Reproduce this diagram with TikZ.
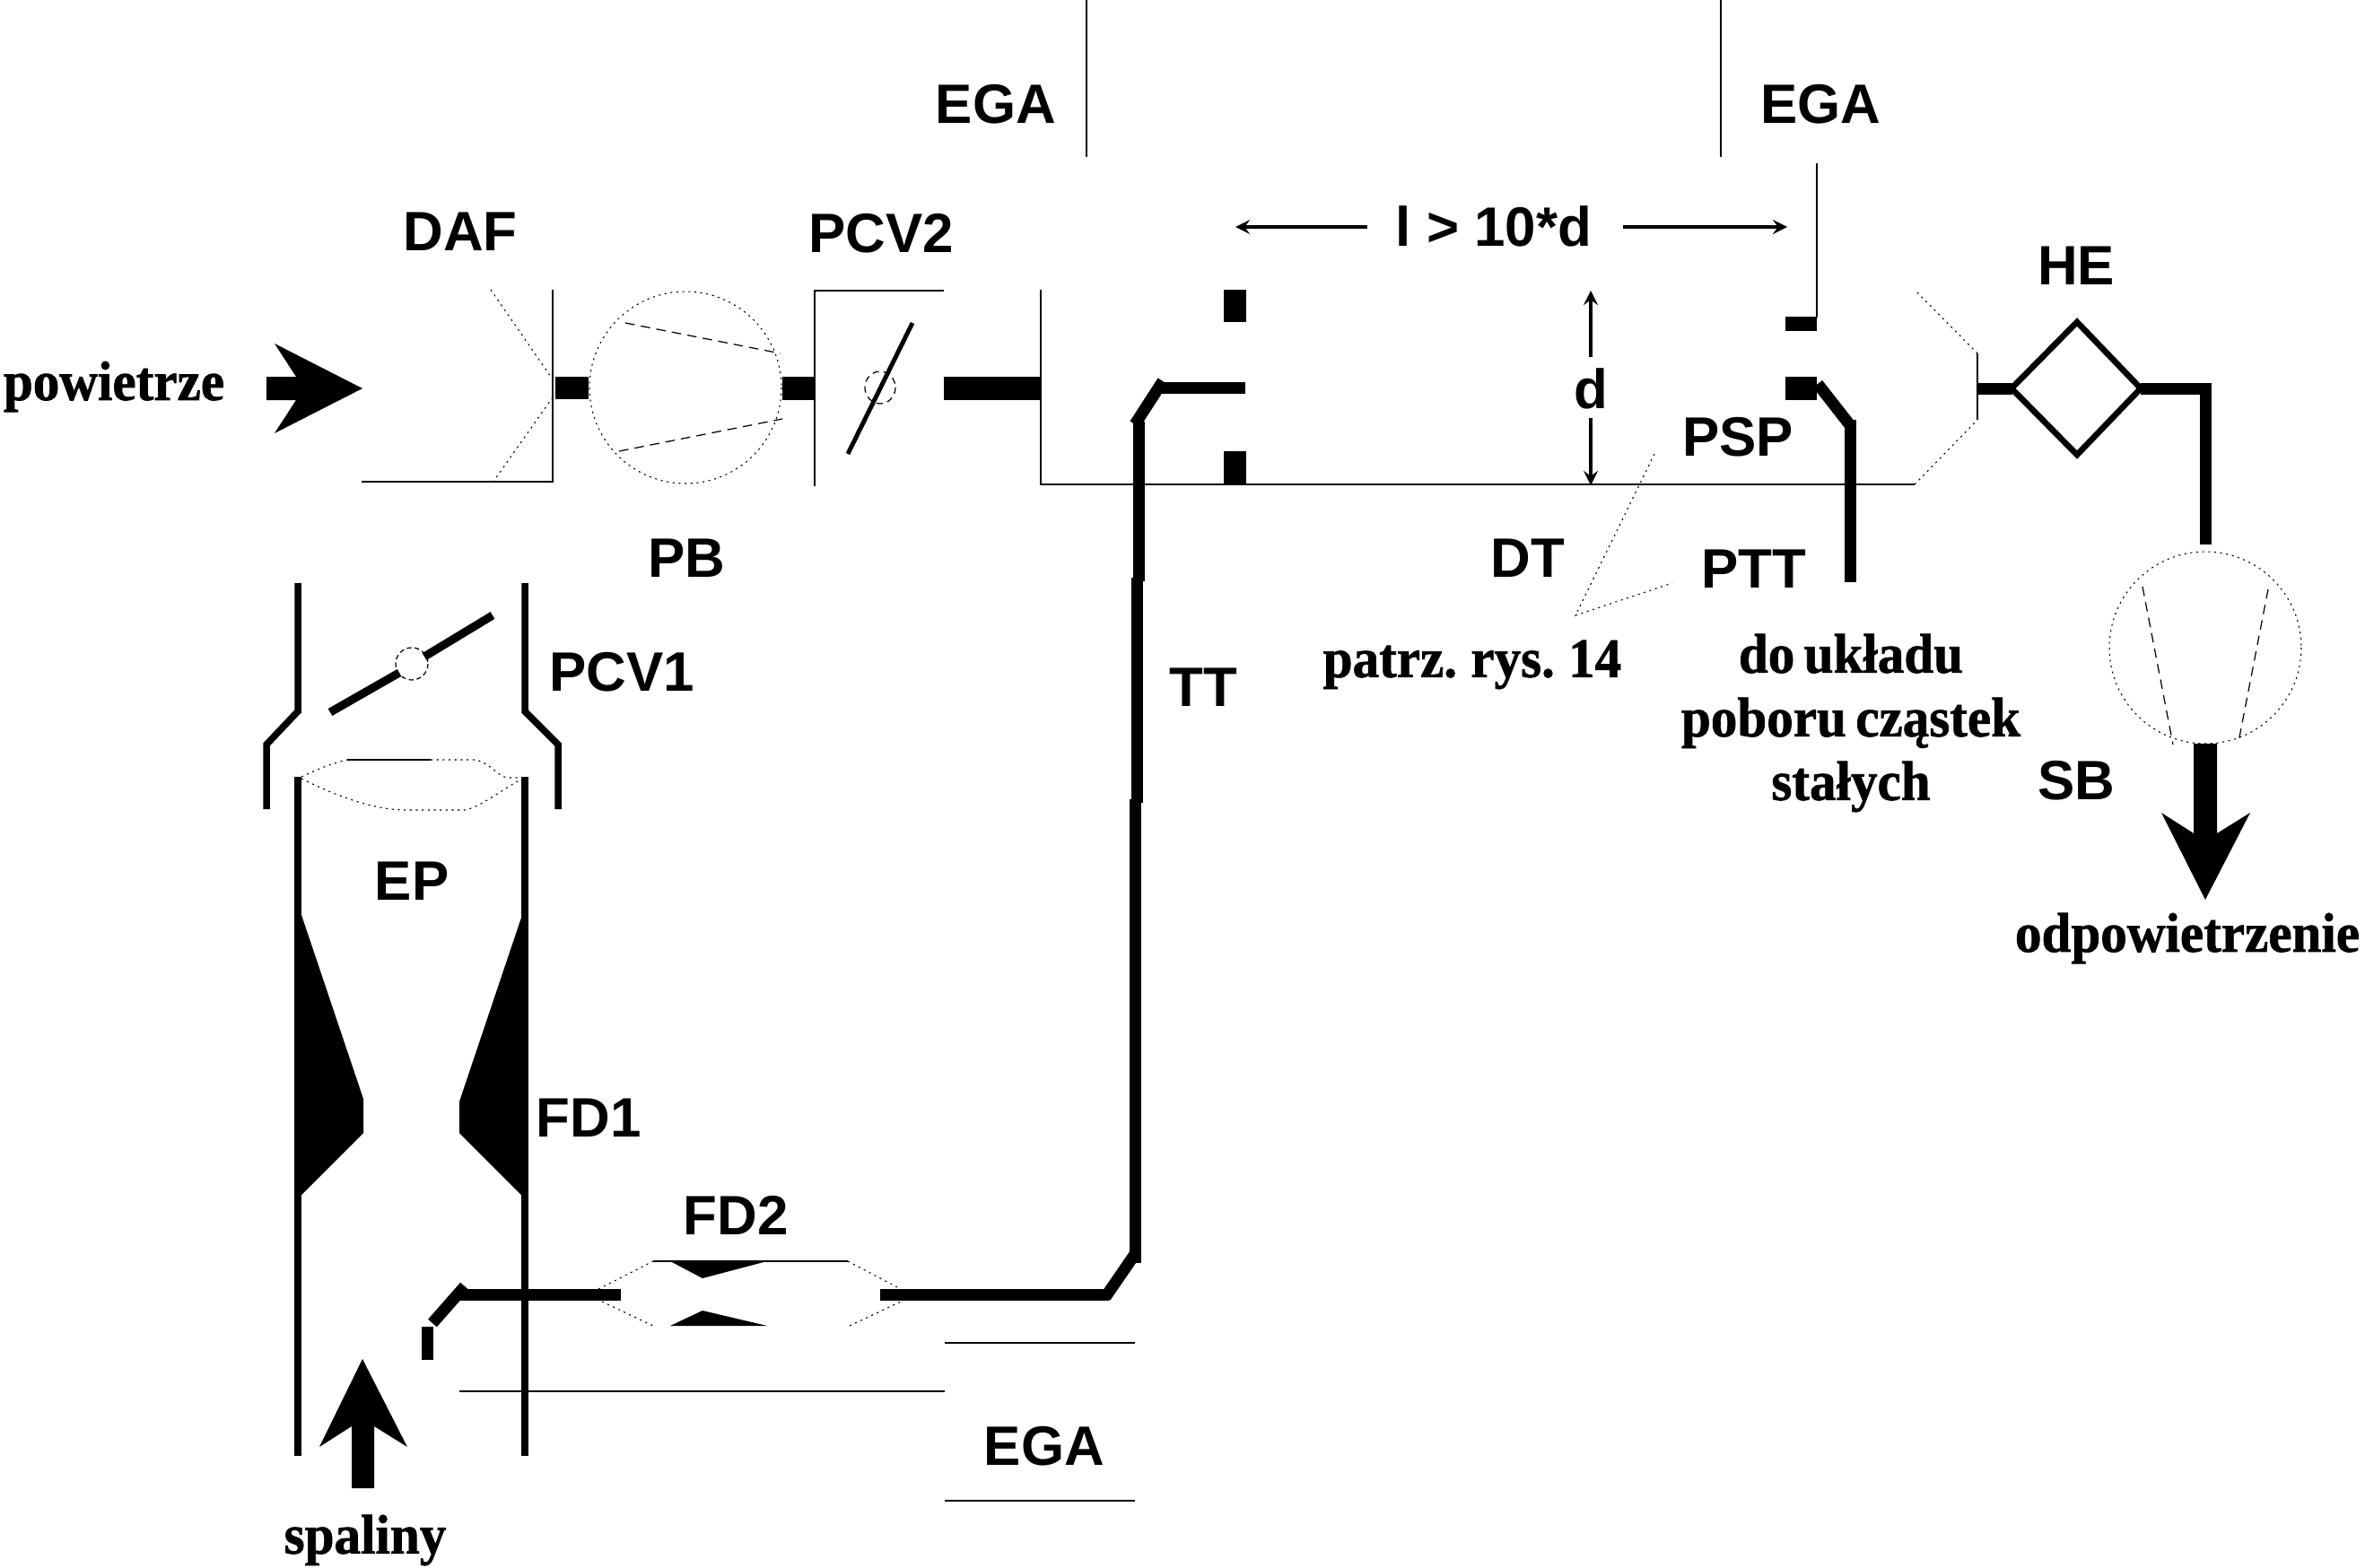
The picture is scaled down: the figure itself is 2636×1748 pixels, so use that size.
\documentclass[tikz,border=0pt]{standalone}
\usepackage{fontspec}
\setmainfont{Liberation Serif}[BoldFeatures={FakeBold=1.1,FakeStretch=0.95},WordSpace=0.7]
\setsansfont{Liberation Sans}
\tikzset{
	wall/.style={line width=7.5*0.2845pt},
	pipe/.style={line width=13*0.2845pt},
	hair/.style={line width=0.55pt},
	dots/.style={line width=0.3pt,dash pattern=on 0.6pt off 1.3pt},
	dashes/.style={line width=0.35pt,dash pattern=on 3pt off 2pt},
	dimline/.style={line width=1pt,>=stealth},
	lab/.style={font=\sffamily\bfseries\fontsize{17.6}{22}\selectfont,inner sep=0pt},
	txt/.style={font=\rmfamily\bfseries\fontsize{17.7}{20.2}\selectfont,inner sep=0pt,align=center},
}
\begin{document}
\begin{tikzpicture}[x=0.1mm,y=-0.1mm]
	\useasboundingbox (0,0) rectangle (2636,1748);
	\draw[hair] (1211,0)--(1211,175);
	\draw[hair] (1918,0)--(1918,175);
	\draw[hair] (2025,182)--(2025,354);
	\draw[hair] (403,537)--(616,537)--(616,323);
	\draw[dots] (547,323)--(616,423) (616,443)--(547,541);
	\fill (619,420) rectangle (656,445);
	\draw[dots] (764,432) circle (107);
	\draw[dashes] (697,360)--(870,394) (690,503)--(872,467);
	\fill (872,420) rectangle (908,446);
	\draw[hair] (1052,324)--(908,324)--(908,542);
	\draw[line width=1.4pt] (1017,360)--(945,506);
	\draw[dashes,dash pattern=on 2pt off 1.5pt] (981,432) ellipse (17 and 18);
	\fill (1052,420) rectangle (1161,446);
	\draw[hair] (1160,323)--(1160,540)--(2134,540);
	\draw[dots] (2134,540)--(2204,468);
	\draw[hair] (2204,468)--(2204,394);
	\draw[dots] (2204,394)--(2135,324);
	\fill (1364,323) rectangle (1389,359);
	\fill (1364,503) rectangle (1389,540);
	\fill (1990,353) rectangle (2025,369);
	\fill (1990,420) rectangle (2025,446);
	\draw[pipe] (1388,432)--(1293,432);
	\draw[pipe] (1296,425)--(1265,473);
	\draw[pipe] (1269,470)--(1269,648);
	\draw[pipe] (1267,644)--(1267,895);
	\draw[pipe] (1265,891)--(1265,1408);
	\draw[pipe] (1265,1398)--(1232,1446);
	\draw[pipe] (1236,1443)--(981,1443);
	\draw[pipe] (2026,428)--(2062,474);
	\draw[pipe] (2062,468)--(2062,649);
	\draw[pipe] (2204,433)--(2243,433);
	\draw[line width=1.9pt] (2242,433)--(2315,359)--(2386,433)--(2315,507)--cycle;
	\draw[pipe] (2386,433)--(2458,433)--(2458,607);
	\draw[dots] (2458,722) circle (107);
	\draw[dashes] (2388,654)--(2422,830) (2528,657)--(2495,827);
	\draw[dimline,<-] (1773,324)--(1773,398);
	\draw[dimline,->] (1773,466)--(1773,541);
	\draw[dimline,<-] (1377,253)--(1524,253);
	\draw[dimline,->] (1809,253)--(1992,253);
	\draw[dots] (1844,506)--(1756,686)--(1864,650);
	\fill (297,420)--(330,420)--(306,383)--(404,433)--(306,483)--(330,446)--(297,446)--cycle;
	\draw[wall] (332,650)--(332,793)--(297,830)--(297,902);
	\draw[wall] (585,650)--(585,793)--(622,830)--(622,902);
	\draw[wall] (332,866)--(332,1623);
	\draw[wall] (585,866)--(585,1623);
	\draw[line width=2.6pt] (368,794)--(445,750) (473,732)--(549,686);
	\draw[dashes,dash pattern=on 1.5pt off 1pt] (459,740) circle (18);
	\draw[dots] (336,866) .. controls (355,857) and (370,851) .. (387,847);
	\draw[hair] (387,847)--(480,847);
	\draw[dots] (480,847)--(530,847) .. controls (545,850) and (555,865) .. (565,867)--(582,867);
	\draw[dots] (336,868) .. controls (380,890) and (420,903) .. (453,903)--(518,903) .. controls (535,900) and (560,880) .. (582,868);
	\fill (332,1020)--(336,1020)--(405,1225)--(405,1263)--(336,1332)--(332,1332)--cycle;
	\fill (585,1023)--(581,1023)--(512,1228)--(512,1263)--(581,1332)--(585,1332)--cycle;
	\draw[pipe] (518,1434)--(482,1475);
	\draw[pipe] (512,1443)--(692,1443);
	\fill (470,1479) rectangle (483,1516);
	\draw[hair] (512,1551)--(1053,1551);
	\draw[hair] (1053,1497)--(1265,1497);
	\draw[hair] (1053,1673)--(1265,1673);
	\draw[hair] (728,1406)--(945,1406);
	\draw[dots] (667,1437)--(728,1406) (945,1406)--(1004,1437);
	\draw[dots] (671,1451)--(728,1478) (947,1478)--(1004,1451);
	\fill (747,1406)--(855,1406)--(783,1425)--cycle;
	\fill (747,1478)--(855,1478)--(783,1461)--cycle;
	\fill (2445,829)--(2471,829)--(2471,929)--(2508,906)--(2458,1003)--(2409,906)--(2445,929)--cycle;
	\fill (392,1659)--(417,1659)--(417,1590)--(454,1613)--(404,1515)--(356,1613)--(392,1590)--cycle;
	\node[lab] (ega1) at (1110,116) {EGA};
	\node[lab] (ega2) at (2029,116) {EGA};
	\node[lab] (ega3) at (1164,1612) {EGA};
	\node[lab] (daf) at (513,258) {DAF};
	\node[lab] (pcv2) at (982,260) {PCV2};
	\node[lab] (dist) at (1665,252) {l > 10*d};
	\node[lab] (dim) at (1773,433) {d};
	\node[lab] (he) at (2314,296) {HE};
	\node[lab] (psp) at (1937,487) {PSP};
	\node[lab] (dt) at (1703,622) {DT};
	\node[lab] (ptt) at (1955,634) {PTT};
	\node[lab] (pb) at (765,622) {PB};
	\node[lab] (pcv1) at (693,749) {PCV1};
	\node[lab] (tt) at (1341,766) {TT};
	\node[lab] (ep) at (459,982) {EP};
	\node[lab] (fd1) at (656,1246) {FD1};
	\node[lab] (fd2) at (820,1355) {FD2};
	\node[lab] (sb) at (2314,870) {SB};
	\node[txt] (air) at (127,431) {powietrze};
	\node[txt] (ref) at (1641,741) {patrz. rys. 14};
	\node[txt] (sys) at (2063,806) {do układu\\poboru cząstek\\stałych};
	\node[txt] (out) at (2438,1046) {odpowietrzenie};
	\node[txt] (exh) at (407,1717) {spaliny};
\end{tikzpicture}
\end{document}
